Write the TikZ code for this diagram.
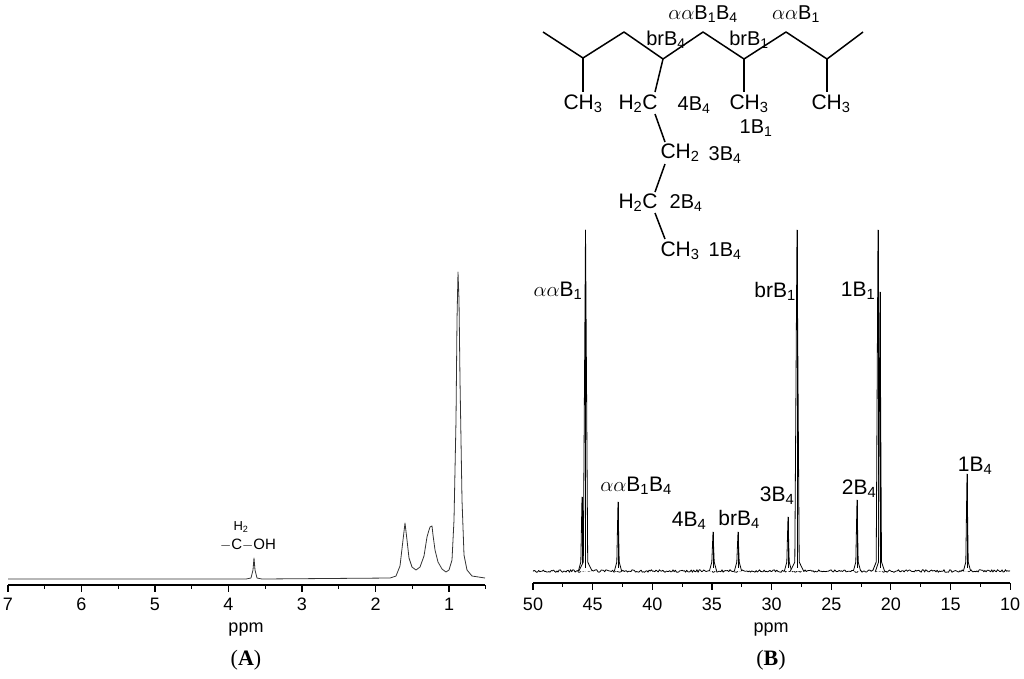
\documentclass[tikz,border=0pt]{standalone}
\usepackage{fontspec}
\setmainfont{Liberation Sans}
\newfontfamily\serifA{Liberation Serif}
\newcommand{\sbs}[1]{\textsubscript{#1}}
\begin{document}
\begin{tikzpicture}[x=1pt,y=-1pt,line join=round,
  lab/.style={font=\fontsize{21}{24}\selectfont,inner sep=0pt},
  tick/.style={font=\fontsize{18}{20}\selectfont,inner sep=0pt},
  bond/.style={line width=1.5pt},
  spec/.style={line width=0.8pt}]
\useasboundingbox (0,0) rectangle (1024,678);
% ===== Panel A =====
\draw[line width=1.1pt] (8,585) -- (485,585);
\foreach \p in {7,6,5,4,3,2,1}{
  \pgfmathsetmacro\xx{8+(7-\p)*73.5}
  \draw[line width=1.1pt] (\xx,585) -- (\xx,592);
  \node[tick] (ta\p) at (\xx,604) {\p};}
\foreach \p in {6.5,5.5,4.5,3.5,2.5,1.5,0.5}{
  \pgfmathsetmacro\xx{8+(7-\p)*73.5}
  \draw[line width=1.1pt] (\xx,585) -- (\xx,589);}
\node[tick] (ppmA) at (246,630) {ppm};
\node[font=\serifA\fontsize{22}{24}\selectfont] (capA) at (246,660) {(\textbf{A})};
\draw[spec,gray!40!black] (8,579) -- (246,579) -- (251,578) -- (253,570) -- (254,558) -- (255,570) -- (257,578) -- (262,579)
 -- (390,578) -- (396,576) -- (400,566) -- (403,540) -- (405,523) -- (407,540) -- (409,558) -- (412,567) -- (416,570) -- (420,567)
 -- (424,556) -- (427,537) -- (429,530) -- (430,527) -- (432,526) -- (433,535) -- (435,550) -- (438,562) -- (442,569) -- (446,572) -- (449,570)
 -- (452,560) -- (454,520) -- (456,420) -- (457,320) -- (458,272) -- (459,300) -- (460,380) -- (462,500) -- (464,555) -- (467,570) -- (472,576) -- (485,578);
\node[font=\fontsize{13}{14}\selectfont,inner sep=0pt] (h2) at (241,527) {H\sbs{2}};
\node[font=\fontsize{15}{16}\selectfont,inner sep=0pt] (ch2oh) at (248,545) {$-$C$-$OH};
% ===== Panel B =====
\draw[line width=1.1pt] (533,583) -- (1010,583);
\foreach \p in {50,45,40,35,30,25,20,15,10}{
  \pgfmathsetmacro\xx{533+(50-\p)*11.93}
  \draw[line width=1.1pt] (\xx,583) -- (\xx,590);
  \node[tick] (tb\p) at (\xx,604) {\p};}
\foreach \p in {47.5,42.5,37.5,32.5,27.5,22.5,17.5,12.5}{
  \pgfmathsetmacro\xx{533+(50-\p)*11.93}
  \draw[line width=1.1pt] (\xx,583) -- (\xx,587);}
\node[tick] (ppmB) at (771,630) {ppm};
\node[font=\serifA\fontsize{22}{24}\selectfont] (capB) at (771,660) {(\textbf{B})};
\pgfmathsetseed{7}
\draw[spec] plot[domain=533:1010,samples=420] (\x,{571+1.3*rand});
\foreach \x/\t/\w in {582/497/1.2,585.5/230/2.2,618/502/1.2,713/532/1.2,738/532/1.2,788/517/1.2,797/230/2.2,857/500/1.2,878/230/1.8,880/292/1.5,967/474/1.2}{
  \draw[spec,fill=white] (\x-3*\w,571) -- (\x-\w,562) -- (\x,\t) -- (\x+\w,562) -- (\x+3*\w,571);
  \draw[spec] (\x,\t) -- (\x,568);}
\node[lab] (l1) at (558,291) {$\alpha\alpha$B\sbs{1}};
\node[lab] (l2) at (775,291) {brB\sbs{1}};
\node[lab] (l3) at (858,291) {1B\sbs{1}};
\node[lab] (l4) at (636,486) {$\alpha\alpha$B\sbs{1}B\sbs{4}};
\node[lab] (l5) at (689,521) {4B\sbs{4}};
\node[lab] (l6) at (739,519) {brB\sbs{4}};
\node[lab] (l7) at (777,496) {3B\sbs{4}};
\node[lab] (l8) at (859,489) {2B\sbs{4}};
\node[lab] (l9) at (975,466) {1B\sbs{4}};
% ===== structure =====
\coordinate (c1) at (543,32); \coordinate (c2) at (583,58); \coordinate (c3) at (624,32);
\coordinate (c4) at (663,59); \coordinate (c5) at (703,32); \coordinate (c6) at (744,59);
\coordinate (c7) at (786,32); \coordinate (c8) at (827,59); \coordinate (c9) at (863,32);
\draw[bond] (c1)--(c2)--(c3)--(c4)--(c5)--(c6)--(c7)--(c8)--(c9);
\node[lab] (m1) at (583,104) {CH\sbs{3}};
\node[lab] (m2) at (638,104) {H\sbs{2}C};
\node[lab] (m3) at (749,104) {CH\sbs{3}};
\node[lab] (m4) at (831,104) {CH\sbs{3}};
\node[lab] (m5) at (680,153) {CH\sbs{2}};
\node[lab] (m6) at (638,203) {H\sbs{2}C};
\node[lab] (m7) at (680,251) {CH\sbs{3}};
\draw[bond] (c2) -- (583,92);
\draw[bond] (c4) -- (655,92);
\draw[bond] (c6) -- (744,92);
\draw[bond] (c8) -- (827,92);
\draw[bond] (655,114) -- (665,142);
\draw[bond] (665,164) -- (655,192);
\draw[bond] (655,213) -- (665,239);
\node[lab,font=\fontsize{20}{22}\selectfont] (s1) at (703,14) {$\alpha\alpha$B\sbs{1}B\sbs{4}};
\node[lab,font=\fontsize{20}{22}\selectfont] (s2) at (796,14) {$\alpha\alpha$B\sbs{1}};
\node[lab,font=\fontsize{20}{22}\selectfont] (s3) at (666,40) {brB\sbs{4}};
\node[lab,font=\fontsize{20}{22}\selectfont] (s4) at (749,40) {brB\sbs{1}};
\node[lab,font=\fontsize{20}{22}\selectfont] (s5) at (694,105) {4B\sbs{4}};
\node[lab,font=\fontsize{20}{22}\selectfont] (s6) at (756,128) {1B\sbs{1}};
\node[lab,font=\fontsize{20}{22}\selectfont] (s7) at (725,155) {3B\sbs{4}};
\node[lab,font=\fontsize{20}{22}\selectfont] (s8) at (686,203) {2B\sbs{4}};
\node[lab,font=\fontsize{20}{22}\selectfont] (s9) at (725,251) {1B\sbs{4}};
\end{tikzpicture}
\end{document}
